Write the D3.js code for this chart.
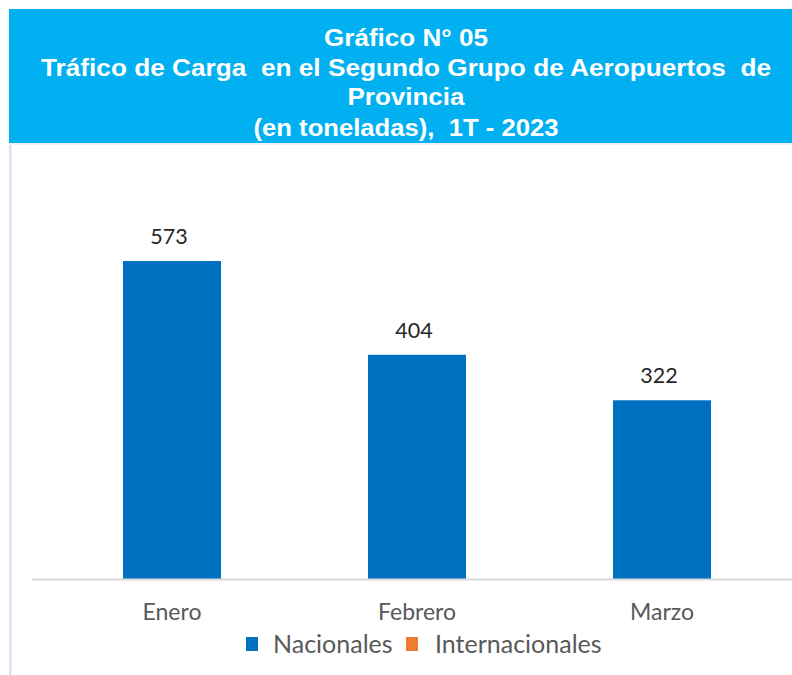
<!DOCTYPE html>
<html><head><meta charset="utf-8">
<script src="https://cdn.jsdelivr.net/npm/d3@7"></script>
<style>body{margin:0;background:#fff}svg{display:block}</style>
</head><body>
<svg id="c" width="792" height="675"></svg>
<script>
const categories = ["Enero", "Febrero", "Marzo"];
const nacionales = [573, 404, 322];
const internacionales = [0, 0, 0];
const seriesNames = ["Nacionales", "Internacionales"];
const seriesColors = ["#0070c0", "#ed7d31"];
const titleLines = ["Gráfico N° 05", "Tráfico de Carga  en el Segundo Grupo de Aeropuertos  de", "Provincia", "(en toneladas),  1T - 2023"];

const svg = d3.select("#c");
// title box
svg.append("rect").attr("x", 9).attr("y", 9).attr("width", 783).attr("height", 134).attr("fill", "#00b0f0");
svg.append("rect").attr("x", 9).attr("y", 143).attr("width", 2.5).attr("height", 532).attr("fill", "#dae3f3");
svg.append("rect").attr("x", 9).attr("y", 143).attr("width", 783).attr("height", 2).attr("fill", "#eef2fa");
const ty = [46, 76, 105, 136];
const tw = [164, 730, 117, 305];
titleLines.forEach((t, i) => {
  svg.append("text").attr("x", 406).attr("y", ty[i]).attr("text-anchor", "middle")
    .attr("fill", "#fff").attr("font-family", "Liberation Sans, Arial, sans-serif")
    .attr("font-weight", "bold").attr("font-size", 24)
    .attr("textLength", tw[i]).attr("lengthAdjust", "spacingAndGlyphs")
    .style("white-space", "pre").text(t);
});

const x = d3.scaleBand().domain(categories).range([49.5, 784.5]).paddingInner(0.6).paddingOuter(0.3);
const y = d3.scaleLinear().domain([0, 600]).range([579, 246]);

// bars
svg.selectAll("rect.bar").data(categories).enter().append("rect").attr("class", "bar")
  .attr("x", d => x(d) + x.bandwidth() / 2 - 49)
  .attr("width", 98)
  .attr("y", (d, i) => y(nacionales[i]))
  .attr("height", (d, i) => y(0) - y(nacionales[i]))
  .attr("fill", seriesColors[0]);

// axis line
svg.append("line").attr("x1", 32).attr("x2", 792).attr("y1", 579.5).attr("y2", 579.5)
  .attr("stroke", "#d9d9d9").attr("stroke-width", 2);

// value labels
svg.selectAll("text.val").data(categories).enter().append("text").attr("class", "val")
  .attr("x", d => x(d) + x.bandwidth() / 2 - 3)
  .attr("y", (d, i) => y(nacionales[i]) - 17)
  .attr("text-anchor", "middle").attr("font-family", "Lato, 'Open Sans', sans-serif")
  .attr("font-size", 21.5).attr("fill", "#262626").text((d, i) => nacionales[i]);

// category labels
svg.selectAll("text.cat").data(categories).enter().append("text").attr("class", "cat")
  .attr("x", d => x(d) + x.bandwidth() / 2)
  .attr("y", 620).attr("text-anchor", "middle").attr("font-family", "Lato, 'Open Sans', sans-serif")
  .attr("font-size", 23).attr("fill", "#595959").text(d => d);

// legend
const lg = [{x: 246, tx: 273}, {x: 406, tx: 435}];
seriesNames.forEach((n, i) => {
  svg.append("rect").attr("x", lg[i].x).attr("y", 637).attr("width", 12).attr("height", 14).attr("fill", seriesColors[i]);
  svg.append("text").attr("x", lg[i].tx).attr("y", 653).attr("font-family", "Lato, 'Open Sans', sans-serif")
    .attr("font-size", 25).attr("fill", "#595959").text(n);
});
</script>
</body></html>
